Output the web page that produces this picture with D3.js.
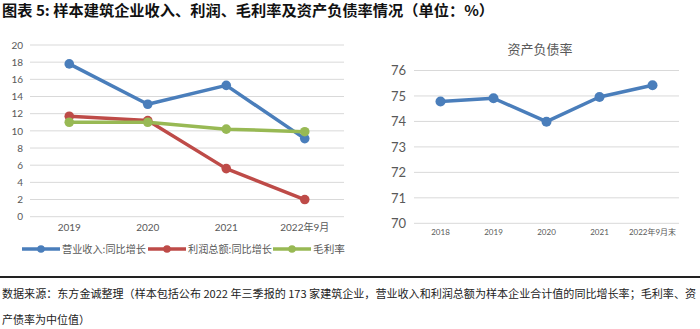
<!DOCTYPE html>
<html><head><meta charset="utf-8">
<script src="https://cdn.jsdelivr.net/npm/d3@7"></script>
<style>body{margin:0;background:#fff;}svg{display:block;}</style>
</head><body>
<script>
const titleText = "图表 5: 样本建筑企业收入、利润、毛利率及资产负债率情况（单位：%）";
const leftCategories = ["2019", "2020", "2021", "2022年9月"];
const revenueGrowth = [17.8, 13.1, 15.3, 9.1];
const profitGrowth = [11.7, 11.2, 5.6, 2.0];
const grossMargin = [11.0, 11.0, 10.2, 9.9];
const leftTicks = [0, 2, 4, 6, 8, 10, 12, 14, 16, 18, 20];
const seriesNames = ["营业收入:同比增长", "利润总额:同比增长", "毛利率"];
const seriesColors = ["#4a7ebb", "#be4b48", "#98b954"];

const rightTitle = "资产负债率";
const rightCategories = ["2018", "2019", "2020", "2021", "2022年9月末"];
const debtRatio = [74.78, 74.91, 73.99, 74.96, 75.42];
const rightTicks = [70, 71, 72, 73, 74, 75, 76];

const footLine1 = "数据来源：东方金诚整理（样本包括公布 2022 年三季报的 173 家建筑企业，营业收入和利润总额为样本企业合计值的同比增长率；毛利率、资";
const footLine2 = "产债率为中位值）";

const W = 700, H = 329;
const svg = d3.select("body").append("svg").attr("width", W).attr("height", H);
const cjk = "'Noto Sans CJK SC', 'Noto Sans', sans-serif";
const axFont = "Lato, 'Noto Sans CJK SC', sans-serif";

// Title
svg.append("text").attr("x", 2).attr("y", 16).text(titleText)
  .attr("font-family", cjk).attr("font-weight", "bold").attr("font-size", 14.5)
  .attr("fill", "#111").attr("textLength", 492).attr("lengthAdjust", "spacingAndGlyphs");

// ---------- Left chart ----------
const lx = d3.scaleBand().domain(leftCategories).range([30, 344]);
const ly = d3.scaleLinear().domain([0, 20]).range([216.7, 45]);
const gL = svg.append("g");
gL.selectAll("line.grid").data(leftTicks).join("line")
  .attr("x1", 30).attr("x2", 344).attr("y1", d => ly(d)).attr("y2", d => ly(d))
  .attr("stroke", "#d9d9d9").attr("stroke-width", 1);
const yAxL = gL.append("g").attr("transform", "translate(30,0)")
  .call(d3.axisLeft(ly).tickValues(leftTicks).tickSize(0).tickPadding(7));
yAxL.select(".domain").remove();
yAxL.selectAll("text").attr("font-family", axFont).attr("font-size", 10).attr("fill", "#595959");
const xAxL = gL.append("g").attr("transform", "translate(0,216.7)")
  .call(d3.axisBottom(lx).tickSize(0).tickPadding(7));
xAxL.select(".domain").remove();
xAxL.selectAll("text").attr("font-family", axFont).attr("font-size", 10).attr("fill", "#595959");

const leftSeries = [revenueGrowth, profitGrowth, grossMargin];
const lineL = d3.line().x((d, i) => lx(leftCategories[i]) + lx.bandwidth() / 2).y(d => ly(d));
leftSeries.forEach((vals, k) => {
  gL.append("path").attr("d", lineL(vals)).attr("fill", "none")
    .attr("stroke", seriesColors[k]).attr("stroke-width", 3.5).attr("stroke-linejoin", "round");
});
leftSeries.forEach((vals, k) => {
  gL.selectAll(null).data(vals).join("circle")
    .attr("cx", (d, i) => lx(leftCategories[i]) + lx.bandwidth() / 2).attr("cy", d => ly(d))
    .attr("r", 4.8).attr("fill", seriesColors[k]);
});

// Legend
const legX = [22, 148, 273];
const legY = 249;
const legW = [84, 84, 32];
seriesNames.forEach((name, k) => {
  const g = svg.append("g").attr("transform", `translate(${legX[k]},${legY})`);
  g.append("line").attr("x1", 0).attr("x2", 38).attr("y1", 0).attr("y2", 0)
    .attr("stroke", seriesColors[k]).attr("stroke-width", 3.5);
  g.append("circle").attr("cx", 19).attr("cy", 0).attr("r", 3.8).attr("fill", seriesColors[k]);
  g.append("text").attr("x", 40).attr("y", 4).text(name)
    .attr("font-family", cjk).attr("font-size", 10).attr("fill", "#595959")
    .attr("textLength", legW[k]).attr("lengthAdjust", "spacingAndGlyphs");
});

// ---------- Right chart ----------
const rx = d3.scaleBand().domain(rightCategories).range([414, 679]);
const ry = d3.scaleLinear().domain([70, 76]).range([223.3, 70.5]);
const gR = svg.append("g");
gR.append("text").attr("x", 540).attr("y", 54).attr("text-anchor", "middle").text(rightTitle)
  .attr("font-family", cjk).attr("font-size", 13).attr("fill", "#595959");
gR.selectAll("line.grid").data(rightTicks).join("line")
  .attr("x1", 414).attr("x2", 679).attr("y1", d => ry(d)).attr("y2", d => ry(d))
  .attr("stroke", "#d9d9d9").attr("stroke-width", 1);
const yAxR = gR.append("g").attr("transform", "translate(414,0)")
  .call(d3.axisLeft(ry).tickValues(rightTicks).tickFormat(d3.format("d")).tickSize(0).tickPadding(8));
yAxR.select(".domain").remove();
yAxR.selectAll("text").attr("font-family", axFont).attr("font-size", 13).attr("fill", "#595959");
const xAxR = gR.append("g").attr("transform", "translate(0,223.3)")
  .call(d3.axisBottom(rx).tickSize(0).tickPadding(6));
xAxR.select(".domain").remove();
xAxR.selectAll("text").attr("font-family", axFont).attr("font-size", 8).attr("fill", "#595959");
const lineR = d3.line().x((d, i) => rx(rightCategories[i]) + rx.bandwidth() / 2).y(d => ry(d));
gR.append("path").attr("d", lineR(debtRatio)).attr("fill", "none")
  .attr("stroke", seriesColors[0]).attr("stroke-width", 3.5).attr("stroke-linejoin", "round");
gR.selectAll(null).data(debtRatio).join("circle")
  .attr("cx", (d, i) => rx(rightCategories[i]) + rx.bandwidth() / 2).attr("cy", d => ry(d))
  .attr("r", 5).attr("fill", seriesColors[0]);

// ---------- Footer ----------
svg.append("line").attr("x1", 0).attr("x2", W).attr("y1", 277).attr("y2", 277)
  .attr("stroke", "#222").attr("stroke-width", 2);
svg.append("text").attr("x", 2).attr("y", 298).text(footLine1)
  .attr("font-family", cjk).attr("font-size", 11).attr("fill", "#222")
  .attr("textLength", 694).attr("lengthAdjust", "spacingAndGlyphs");
svg.append("text").attr("x", 2).attr("y", 324).text(footLine2)
  .attr("font-family", cjk).attr("font-size", 11).attr("fill", "#222");
</script>
</body></html>
